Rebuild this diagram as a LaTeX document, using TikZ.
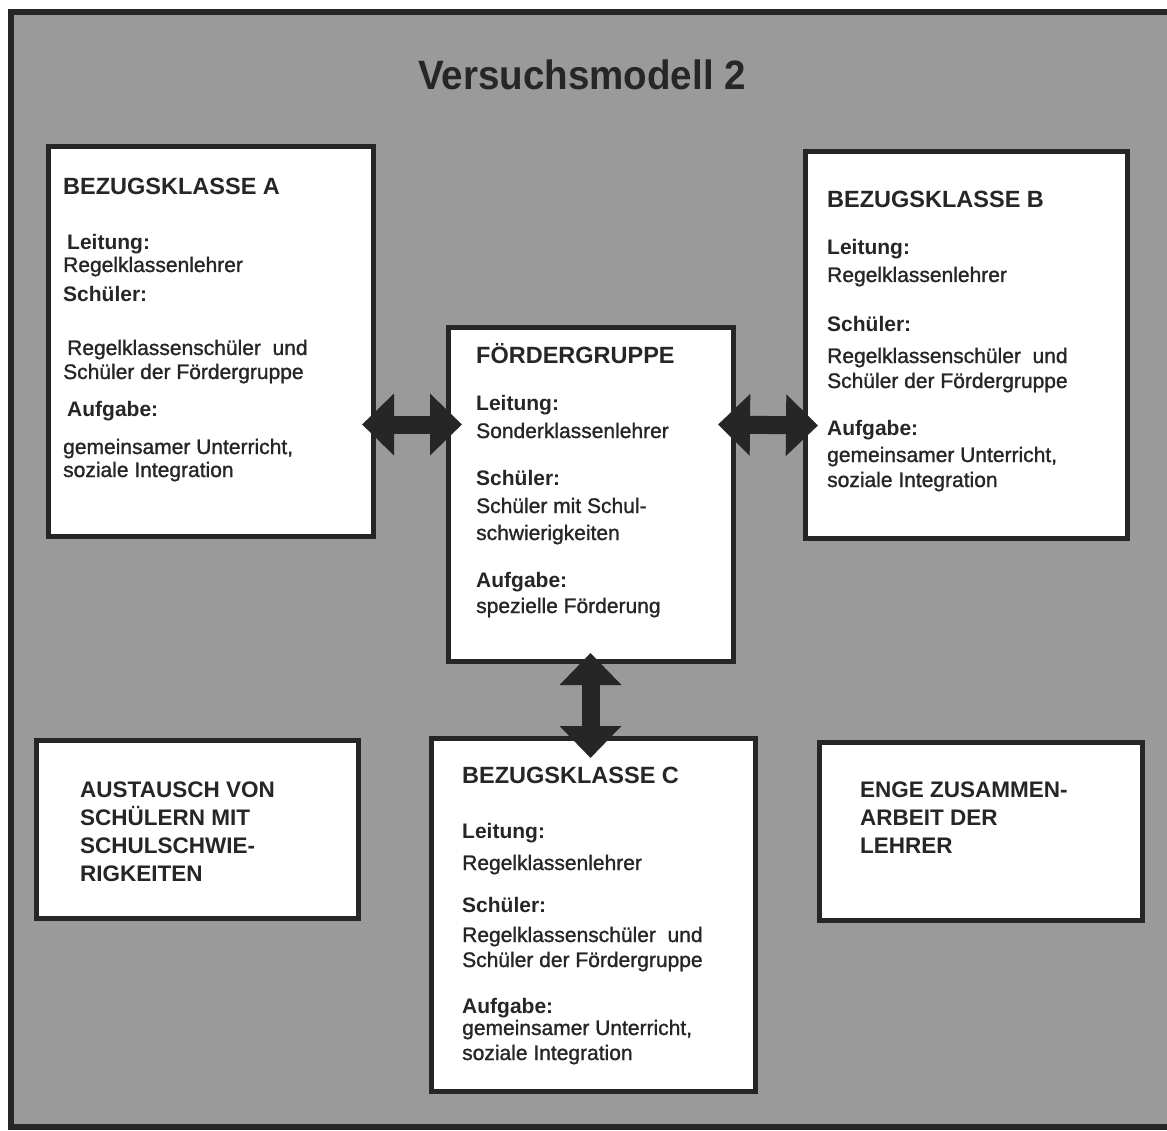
\documentclass[tikz,border=0pt]{standalone}
\usepackage{fontspec}
\usepackage{graphicx}
\setmainfont{Liberation Sans}
\newfontfamily\bodyfam{Liberation Sans}[FakeBold=1.2]
\usetikzlibrary{arrows.meta}
\definecolor{ink}{HTML}{262626}
\definecolor{bg}{HTML}{9A9A9A}
\newcommand{\HdF}{\bfseries\fontsize{23.5}{28}\selectfont}
\newcommand{\LbF}{\bfseries\fontsize{21}{25}\selectfont}
\newcommand{\BdF}{\bodyfam\fontsize{21}{25}\selectfont}
\newcommand{\CpF}{\bfseries\fontsize{22.5}{27}\selectfont}
\begin{document}
\begin{tikzpicture}[x=1pt,y=1pt,
  box/.style={draw=ink, line width=5pt, fill=white, rectangle, inner sep=0pt, anchor=north west},
  txt/.style={anchor=base west, inner sep=0pt, text=ink},
  dbl/.style={draw=ink, line width=18pt, {Triangle[width=60pt,length=32pt]}-{Triangle[width=60pt,length=32pt]}}]
\useasboundingbox (0,0) rectangle (1167,-1131);
\clip (0,0) rectangle (1167,-1131);
\fill[white] (0,0) rectangle (1167,-1131);
% outer frame
\draw[draw=ink, line width=6pt, fill=bg] (10.5,-12.5) rectangle (1180,-1127);
% title
\node[anchor=base, text=ink, inner sep=0pt] (title) at (582,-90) {\scalebox{0.94}[1]{\bfseries\fontsize{41}{48}\selectfont Versuchsmodell 2}};
% boxes
\node[box, minimum width=325pt, minimum height=390pt] (A) at (46,-144) {};
\node[box, minimum width=285pt, minimum height=334pt] (F) at (446,-325) {};
\node[box, minimum width=322pt, minimum height=387pt] (B) at (803,-149) {};
\node[box, minimum width=322pt, minimum height=178pt] (X) at (34,-738) {};
\node[box, minimum width=324pt, minimum height=353pt] (C) at (429,-736) {};
\node[box, minimum width=323pt, minimum height=178pt] (E) at (817,-740) {};
% arrows
\draw[dbl] ([xshift=-14pt,yshift=-83pt]A.east) -- ([xshift=16pt,yshift=70pt]F.west);
\draw[dbl] ([xshift=-18pt,yshift=70pt]F.east) -- ([xshift=15pt,yshift=-80.5pt]B.west);
\draw[dbl] ([xshift=-0.5pt,yshift=11pt]F.south) -- ([xshift=-3pt,yshift=-22pt]C.north);
% box A
\node[txt] (a1) at (63,-195) {\HdF BEZUGSKLASSE A};
\node[txt] (a2) at (67,-250) {\LbF Leitung:};
\node[txt] (a3) at (63,-272) {\BdF Regelklassenlehrer};
\node[txt] (a4) at (63,-302) {\LbF Schüler:};
\node[txt] (a5) at (67,-355) {\BdF Regelklassenschüler\ \ und};
\node[txt] (a6) at (63,-379) {\BdF Schüler der Fördergruppe};
\node[txt] (a7) at (67,-416) {\LbF Aufgabe:};
\node[txt] (a8) at (63,-454) {\BdF gemeinsamer Unterricht,};
\node[txt] (a9) at (63,-477) {\BdF soziale Integration};
% box B
\node[txt] (b1) at (827,-208) {\HdF BEZUGSKLASSE B};
\node[txt] (b2) at (827,-255) {\LbF Leitung:};
\node[txt] (b3) at (827,-282) {\BdF Regelklassenlehrer};
\node[txt] (b4) at (827,-332) {\LbF Schüler:};
\node[txt] (b5) at (827,-363) {\BdF Regelklassenschüler\ \ und};
\node[txt] (b6) at (827,-388) {\BdF Schüler der Fördergruppe};
\node[txt] (b7) at (827,-435) {\LbF Aufgabe:};
\node[txt] (b8) at (827,-462) {\BdF gemeinsamer Unterricht,};
\node[txt] (b9) at (827,-487) {\BdF soziale Integration};
% box F
\node[txt] (f1) at (476,-363) {\HdF FÖRDERGRUPPE};
\node[txt] (f2) at (476,-410) {\LbF Leitung:};
\node[txt] (f3) at (476,-438) {\BdF Sonderklassenlehrer};
\node[txt] (f4) at (476,-485) {\LbF Schüler:};
\node[txt] (f5) at (476,-513) {\BdF Schüler mit Schul-};
\node[txt] (f6) at (476,-540) {\BdF schwierigkeiten};
\node[txt] (f7) at (476,-587) {\LbF Aufgabe:};
\node[txt] (f8) at (476,-613) {\BdF spezielle Förderung};
% box C
\node[txt] (c1) at (462,-783) {\HdF BEZUGSKLASSE C};
\node[txt] (c2) at (462,-838) {\LbF Leitung:};
\node[txt] (c3) at (462,-870) {\BdF Regelklassenlehrer};
\node[txt] (c4) at (462,-912) {\LbF Schüler:};
\node[txt] (c5) at (462,-942) {\BdF Regelklassenschüler\ \ und};
\node[txt] (c6) at (462,-967) {\BdF Schüler der Fördergruppe};
\node[txt] (c7) at (462,-1013) {\LbF Aufgabe:};
\node[txt] (c8) at (462,-1035) {\BdF gemeinsamer Unterricht,};
\node[txt] (c9) at (462,-1060) {\BdF soziale Integration};
% box X (Austausch)
\node[txt] (x1) at (80,-797) {\CpF AUSTAUSCH VON};
\node[txt] (x2) at (80,-825) {\CpF SCHÜLERN MIT};
\node[txt] (x3) at (80,-853) {\CpF SCHULSCHWIE-};
\node[txt] (x4) at (80,-881) {\CpF RIGKEITEN};
% box E
\node[txt] (e1) at (860,-797) {\CpF ENGE ZUSAMMEN-};
\node[txt] (e2) at (860,-825) {\CpF ARBEIT DER};
\node[txt] (e3) at (860,-853) {\CpF LEHRER};
\end{tikzpicture}
\end{document}
